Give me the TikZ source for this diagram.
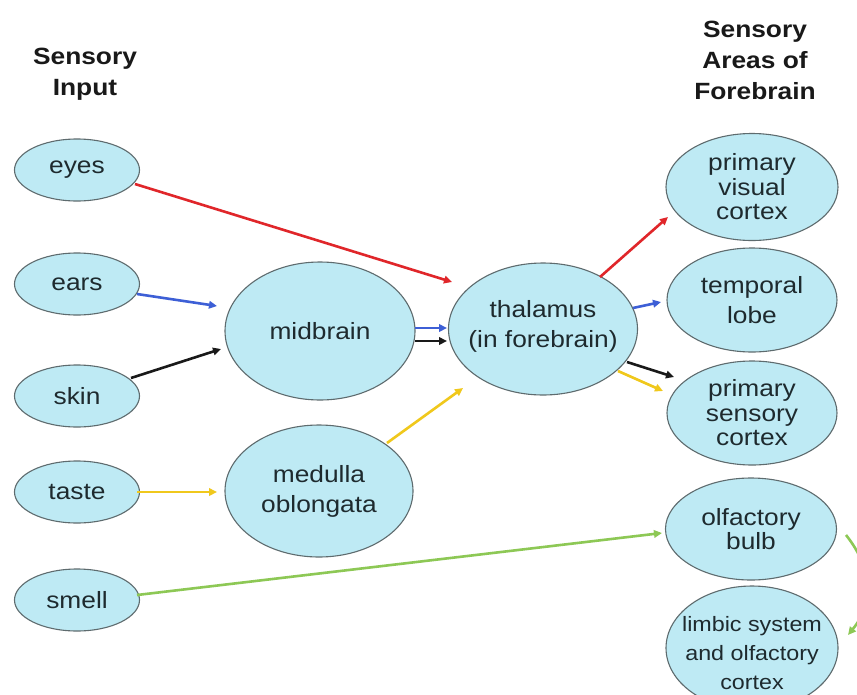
\documentclass[tikz,border=0pt]{standalone}
\usepackage{fontspec}
\setmainfont{Liberation Sans}[FakeStretch=1.12]
\usetikzlibrary{shapes.geometric,arrows.meta,calc}
\definecolor{bubble}{HTML}{BEEAF4}
\definecolor{rim}{HTML}{5E6B6E}
\definecolor{ink}{HTML}{1E2A2E}
\definecolor{cred}{HTML}{E0262A}
\definecolor{cblue}{HTML}{3D5FD6}
\definecolor{cyel}{HTML}{F0C81C}
\definecolor{cgreen}{HTML}{8DC855}
\begin{document}
\begin{tikzpicture}[x=1pt,y=-1pt,
 bub/.style={ellipse,draw=rim,fill=bubble,line width=1.1pt,inner sep=0pt},
 txt/.style={align=center,text=ink,font=\fontsize{23.5}{30}\selectfont,inner sep=0pt},
 tight/.style={font=\fontsize{23.5}{24.5}\selectfont},
 small/.style={font=\fontsize{20.8}{29}\selectfont},
 ttl/.style={align=center,font=\bfseries\fontsize{23.5}{31}\selectfont,text=black!90,inner sep=0pt},
 conn/.style={line width=2.6pt,-{Triangle[length=8pt,width=7.5pt]}},
]
\useasboundingbox[fill=white] (0,0) rectangle (857,694);

% titles
\node[ttl] (tin) at (85,74) {Sensory\\Input};
\node[ttl] (tout) at (755,60) {Sensory\\Areas of\\Forebrain};

% left column
\node[bub,minimum width=125,minimum height=62,label={[txt]center:eyes}] (eyes) at (77,170) {};
\node[bub,minimum width=125,minimum height=62,label={[txt]center:ears}] (ears) at (77,284) {};
\node[bub,minimum width=125,minimum height=62,label={[txt]center:skin}] (skin) at (77,396) {};
\node[bub,minimum width=125,minimum height=62,label={[txt]center:taste}] (taste) at (77,492) {};
\node[bub,minimum width=125,minimum height=62,label={[txt]center:smell}] (smell) at (77,600) {};

% middle
\node[bub,minimum width=190,minimum height=138,label={[txt]center:midbrain}] (mid) at (320,331) {};
\node[bub,minimum width=188,minimum height=132,label={[txt]center:{medulla\\oblongata}}] (med) at (319,491) {};
\node[bub,minimum width=189,minimum height=132,label={[txt,yshift=3pt]center:{thalamus\\(in forebrain)}}] (thal) at (543,329) {};

% right column
\node[bub,minimum width=172,minimum height=107,label={[txt,tight]center:{primary\\visual\\cortex}}] (vis) at (752,187) {};
\node[bub,minimum width=170,minimum height=104,label={[txt]center:{temporal\\lobe}}] (temp) at (752,300) {};
\node[bub,minimum width=170,minimum height=104,label={[txt,tight]center:{primary\\sensory\\cortex}}] (sens) at (752,413) {};
\node[bub,minimum width=171,minimum height=102,label={[txt,tight]center:{olfactory\\bulb}}] (olf) at (751,529) {};
\node[bub,minimum width=172,minimum height=124,label={[txt,small,yshift=-5pt]center:{limbic system\\and olfactory\\cortex}}] (limb) at (752,648) {};

% connectors
\draw[conn,cred] ($(eyes)+(58,14)$) -- ($(thal)+(-91,-47)$);
\draw[conn,cblue] ($(ears)+(60,10)$) -- ($(mid)+(-103,-25)$);
\draw[conn,black!90] ($(skin)+(54,-18)$) -- ($(mid)+(-99,18)$);
\draw[conn,cyel] ($(taste)+(60,0)$) -- ($(med)+(-102,1)$);
\draw[conn,cgreen] ($(smell)+(60,-5)$) -- ($(olf)+(-89,4)$);
\draw[conn,cblue] ($(mid)+(95,-3)$) -- ($(thal)+(-96,-1)$);
\draw[conn,black!90] ($(mid)+(95,10)$) -- ($(thal)+(-96,12)$);
\draw[conn,cyel] ($(med)+(68,-48)$) -- ($(thal)+(-80,59)$);
\draw[conn,cred] ($(thal)+(57,-52)$) -- ($(vis)+(-84,30)$);
\draw[conn,cblue] ($(thal)+(90,-21)$) -- ($(temp)+(-91,2)$);
\draw[conn,black!90] ($(thal)+(84,33)$) -- ($(sens)+(-78,-36)$);
\draw[conn,cyel] ($(thal)+(75,42)$) -- ($(sens)+(-89,-22)$);
\draw[conn,cgreen] ($(olf)+(95,6)$) .. controls ($(olf)+(122,40)$) and ($(limb)+(122,-45)$) .. ($(limb)+(96,-13)$);
\end{tikzpicture}
\end{document}
